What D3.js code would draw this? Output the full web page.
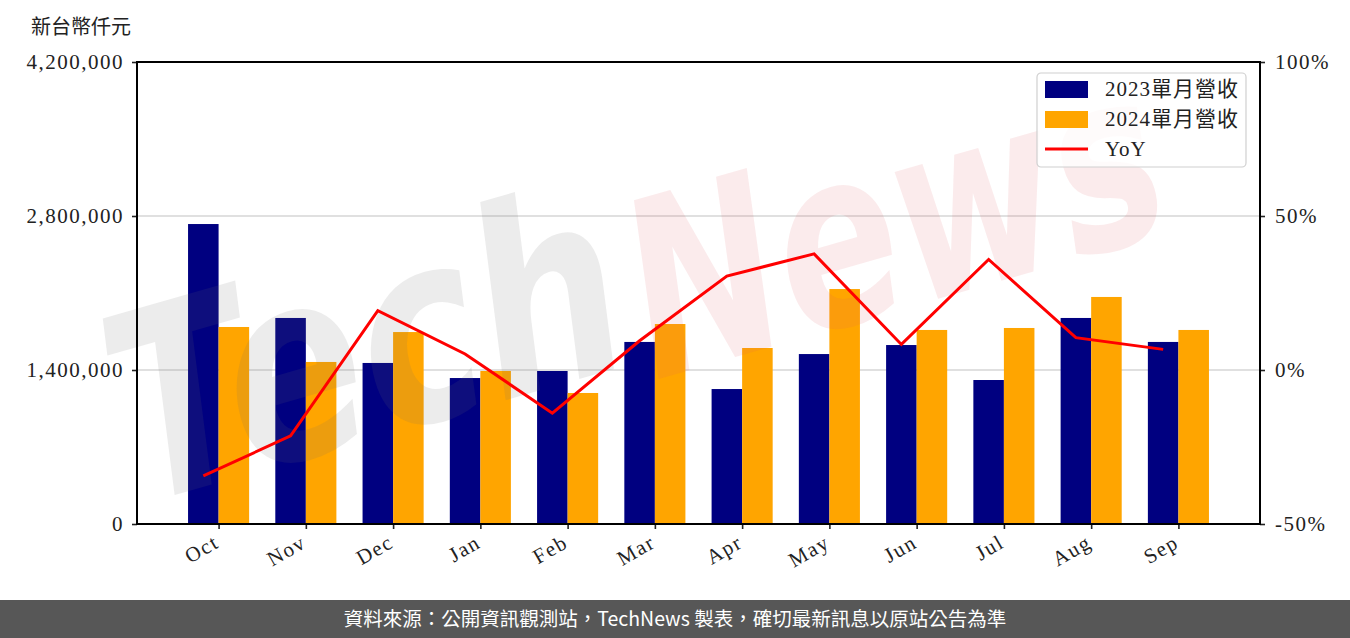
<!DOCTYPE html>
<html>
<head>
<meta charset="utf-8">
<script src="https://cdn.jsdelivr.net/npm/d3@7"></script>
<style>
  body { margin: 0; background: #fff; }
  svg text { font-family: "Liberation Serif", "Noto Sans CJK TC", serif; }
</style>
</head>
<body>
<div id="chart"></div>
<script>
const months = ['Oct', 'Nov', 'Dec', 'Jan', 'Feb', 'Mar', 'Apr', 'May', 'Jun', 'Jul', 'Aug', 'Sep'];
const rev2023 = [2727000, 1873000, 1464000, 1327000, 1391000, 1655000, 1227000, 1545000, 1627000, 1309000, 1873000, 1655000];
const rev2024 = [1791000, 1473000, 1745000, 1391000, 1191000, 1818000, 1600000, 2136000, 1764000, 1782000, 2064000, 1764000];
const yoy = [-34.4, -21.4, 19.3, 5.2, -14.0, 9.5, 30.5, 37.7, 8.3, 35.9, 10.5, 6.7];
const leftTicks = [0, 1400000, 2800000, 4200000];
const rightTicks = [-50, 0, 50, 100];
const seriesNames = ['2023單月營收', '2024單月營收', 'YoY'];

const W = 1350, H = 638;
const plot = { left: 137, right: 1260, top: 62, bottom: 524 };
const barW = 0.35;

const svg = d3.select('#chart').append('svg')
    .attr('width', W)
    .attr('height', H);

const x = d3.scaleLinear()
    .domain([-barW / 2 - 0.585, 11 + 1.5 * barW + 0.585])
    .range([plot.left, plot.right]);
const yL = d3.scaleLinear().domain([0, 4200000]).range([plot.bottom, plot.top]);
const yR = d3.scaleLinear().domain([-50, 100]).range([plot.bottom, plot.top]);

// grid
svg.append('g')
    .selectAll('line')
    .data(leftTicks.slice(1, 3))
    .enter()
    .append('line')
    .attr('x1', plot.left).attr('x2', plot.right)
    .attr('y1', (d) => yL(d)).attr('y2', (d) => yL(d))
    .attr('stroke', '#d6d6d6')
    .attr('stroke-width', 1.6);

// bars
const bars = svg.append('g');
bars.selectAll('.b23')
    .data(rev2023)
    .enter()
    .append('rect')
    .attr('x', (d, i) => x(i - barW / 2))
    .attr('width', x(barW) - x(0))
    .attr('y', (d) => yL(d))
    .attr('height', (d) => yL(0) - yL(d))
    .attr('fill', '#000080');
bars.selectAll('.b24')
    .data(rev2024)
    .enter()
    .append('rect')
    .attr('x', (d, i) => x(i + barW / 2))
    .attr('width', x(barW) - x(0))
    .attr('y', (d) => yL(d))
    .attr('height', (d) => yL(0) - yL(d))
    .attr('fill', '#ffa500');

// watermark
const wm = svg.append('g').style('pointer-events', 'none');
function mark(txt, x0, y0, len, size, col) {
    wm.append('text')
        .attr('x', x0).attr('y', y0)
        .attr('transform', `rotate(-16,${x0},${y0})`)
        .attr('textLength', len)
        .attr('lengthAdjust', 'spacingAndGlyphs')
        .style('font-family', '"DejaVu Sans", sans-serif')
        .style('font-style', 'italic')
        .style('font-weight', 'bold')
        .style('font-size', size + 'px')
        .attr('fill', col)
        .text(txt);
}
mark('Tech', 140, 505, 520, 260, 'rgba(110,110,110,0.13)');
mark('News', 655, 380, 545, 245, 'rgba(220,90,100,0.12)');

// yoy line
const line = d3.line()
    .x((d, i) => x(i))
    .y((d) => yR(d));
svg.append('path')
    .datum(yoy)
    .attr('d', line)
    .attr('fill', 'none')
    .attr('stroke', '#ff0000')
    .attr('stroke-width', 3);

// axes
const axL = svg.append('g')
    .attr('transform', `translate(${plot.left},0)`)
    .call(d3.axisLeft(yL).tickValues(leftTicks).tickFormat(d3.format(',')).tickSizeOuter(0).tickSize(5).tickPadding(8));
const axR = svg.append('g')
    .attr('transform', `translate(${plot.right},0)`)
    .call(d3.axisRight(yR).tickValues(rightTicks).tickFormat((d) => d + '%').tickSizeOuter(0).tickSize(5).tickPadding(10));
const axB = svg.append('g')
    .attr('transform', `translate(0,${plot.bottom})`)
    .call(d3.axisBottom(x).tickValues(d3.range(12).map((i) => i + barW / 2)).tickFormat((d, i) => months[i]).tickSizeOuter(0).tickSize(5));

[axL, axR, axB].forEach((a) => {
    a.selectAll('.domain').remove();
    a.selectAll('.tick line').attr('stroke', '#222').attr('stroke-width', 1.6);
    a.selectAll('text')
        .attr('fill', '#222')
        .style('font-size', '21px')
        .style('letter-spacing', '1.5px')
        .style('font-family', '"Liberation Serif", serif');
});
axB.selectAll('text')
    .attr('text-anchor', 'end')
    .attr('dy', '0.3em')
    .attr('transform', 'translate(-6,10) rotate(-30)');

// frame
svg.append('rect')
    .attr('x', plot.left).attr('y', plot.top)
    .attr('width', plot.right - plot.left)
    .attr('height', plot.bottom - plot.top)
    .attr('fill', 'none')
    .attr('stroke', '#000')
    .attr('stroke-width', 2);

// unit label
svg.append('text')
    .attr('x', 31).attr('y', 34)
    .style('font-family', '"Noto Sans CJK TC", sans-serif')
    .style('font-size', '20px')
    .attr('fill', '#222')
    .text('新台幣仟元');

// legend
const lg = svg.append('g').attr('transform', 'translate(1037,73)');
lg.append('rect')
    .attr('width', 209).attr('height', 94)
    .attr('rx', 4)
    .attr('fill', 'rgba(255,255,255,0.8)')
    .attr('stroke', '#d0d0d0')
    .attr('stroke-width', 1.2);
const colors = ['#000080', '#ffa500'];
seriesNames.forEach((name, i) => {
    const cy = 16 + i * 30;
    if (i < 2) {
        lg.append('rect').attr('x', 8).attr('y', cy - 8).attr('width', 43).attr('height', 17).attr('fill', colors[i]);
    } else {
        lg.append('line').attr('x1', 8).attr('x2', 51).attr('y1', cy).attr('y2', cy)
            .attr('stroke', '#ff0000').attr('stroke-width', 3);
    }
    lg.append('text')
        .attr('x', 68).attr('y', cy + 7)
        .style('font-size', '21px')
        .style('letter-spacing', '1px')
        .attr('fill', '#222')
        .text(name);
});

// footer
svg.append('rect')
    .attr('x', 0).attr('y', 600)
    .attr('width', W).attr('height', H - 600)
    .attr('fill', '#575757');
svg.append('text')
    .attr('x', W / 2).attr('y', 626)
    .attr('text-anchor', 'middle')
    .style('font-family', '"Noto Sans CJK TC", sans-serif')
    .style('font-size', '19.5px')
    .attr('fill', '#fff')
    .text('資料來源：公開資訊觀測站，TechNews 製表，確切最新訊息以原站公告為準');
</script>
</body>
</html>
